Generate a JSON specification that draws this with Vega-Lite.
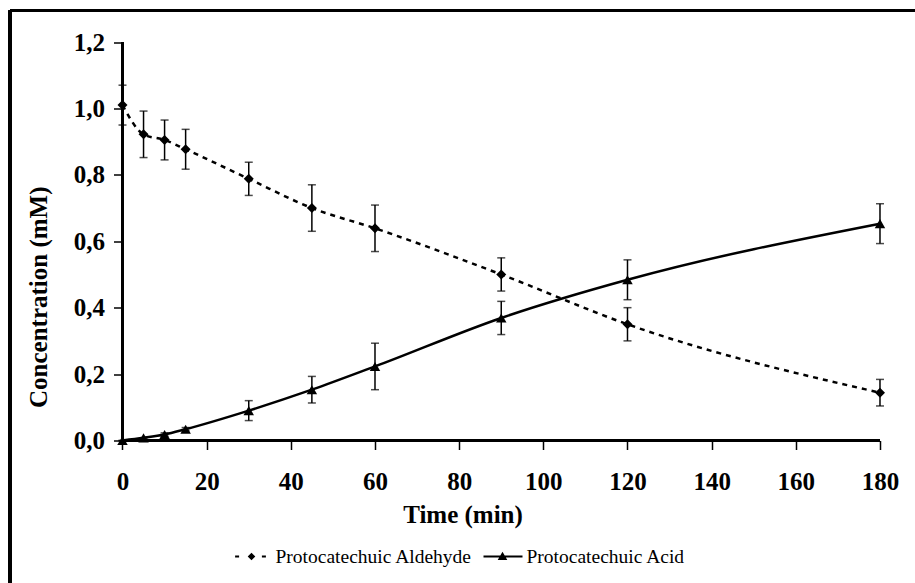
{
  "$schema": "https://vega.github.io/schema/vega-lite/v6.json",
  "autosize": {"type": "none"},
  "padding": {"left": 10, "top": 10.5, "right": 0, "bottom": 0},
  "width": 905,
  "height": 572.5,
  "background": "white",
  "config": {
    "view": {"stroke": null},
    "font": "Liberation Serif"
  },
  "data": {
    "values": [
      {"series": "Protocatechuic Aldehyde", "time": 0, "conc": 1.01, "err": 0.06},
      {"series": "Protocatechuic Aldehyde", "time": 5, "conc": 0.922, "err": 0.07},
      {"series": "Protocatechuic Aldehyde", "time": 10, "conc": 0.905, "err": 0.06},
      {"series": "Protocatechuic Aldehyde", "time": 15, "conc": 0.877, "err": 0.06},
      {"series": "Protocatechuic Aldehyde", "time": 30, "conc": 0.788, "err": 0.05},
      {"series": "Protocatechuic Aldehyde", "time": 45, "conc": 0.70, "err": 0.07},
      {"series": "Protocatechuic Aldehyde", "time": 60, "conc": 0.639, "err": 0.07},
      {"series": "Protocatechuic Aldehyde", "time": 90, "conc": 0.50, "err": 0.05},
      {"series": "Protocatechuic Aldehyde", "time": 120, "conc": 0.35, "err": 0.05},
      {"series": "Protocatechuic Aldehyde", "time": 180, "conc": 0.144, "err": 0.04},
      {"series": "Protocatechuic Acid", "time": 0, "conc": 0.0, "err": 0},
      {"series": "Protocatechuic Acid", "time": 5, "conc": 0.008, "err": 0},
      {"series": "Protocatechuic Acid", "time": 10, "conc": 0.018, "err": 0.005},
      {"series": "Protocatechuic Acid", "time": 15, "conc": 0.034, "err": 0.005},
      {"series": "Protocatechuic Acid", "time": 30, "conc": 0.09, "err": 0.03},
      {"series": "Protocatechuic Acid", "time": 45, "conc": 0.153, "err": 0.04},
      {"series": "Protocatechuic Acid", "time": 60, "conc": 0.223, "err": 0.07},
      {"series": "Protocatechuic Acid", "time": 90, "conc": 0.369, "err": 0.05},
      {"series": "Protocatechuic Acid", "time": 120, "conc": 0.484, "err": 0.06},
      {"series": "Protocatechuic Acid", "time": 180, "conc": 0.653, "err": 0.06}
    ]
  },
  "encoding": {
    "x": {
      "field": "time",
      "type": "quantitative",
      "scale": {"domain": [-26.733, 188.32], "nice": false, "zero": false},
      "axis": {
        "values": [0, 20, 40, 60, 80, 100, 120, 140, 160, 180],
        "domain": false,
        "grid": false,
        "offset": -142.5,
        "tickSize": 9,
        "tickWidth": 1.5,
        "tickColor": "black",
        "labelFont": "Liberation Serif",
        "labelFontSize": 25,
        "labelFontWeight": "bold",
        "labelColor": "black",
        "labelPadding": 20,
        "title": "Time (min)",
        "titleFont": "Liberation Serif",
        "titleFontSize": 25,
        "titleFontWeight": "bold",
        "titleColor": "black",
        "titlePadding": 8
      }
    },
    "y": {
      "field": "conc",
      "type": "quantitative",
      "scale": {"domain": [-0.42911, 1.29487], "nice": false, "zero": false},
      "axis": {
        "values": [0, 0.2, 0.4, 0.6, 0.8, 1.0, 1.2],
        "labelExpr": "replace(format(datum.value, '.1f'), '.', ',')",
        "domain": false,
        "grid": false,
        "offset": -112.5,
        "tickSize": 9,
        "tickWidth": 1.5,
        "tickColor": "black",
        "labelFont": "Liberation Serif",
        "labelFontSize": 25,
        "labelFontWeight": "bold",
        "labelColor": "black",
        "labelPadding": 9,
        "title": "Concentration (mM)",
        "titleFont": "Liberation Serif",
        "titleFontSize": 25,
        "titleFontWeight": "bold",
        "titleColor": "black",
        "titlePadding": 22
      }
    }
  },
  "layer": [
    {
      "mark": {"type": "rule", "color": "black", "strokeWidth": 2.5},
      "encoding": {
        "x": {"datum": -26.733, "type": "quantitative"},
        "y": {"datum": -0.42911, "type": "quantitative"},
        "y2": {"datum": 1.29487}
      }
    },
    {
      "mark": {"type": "rule", "color": "black", "strokeWidth": 2.5},
      "encoding": {
        "y": {"datum": 1.29487, "type": "quantitative"},
        "x": {"datum": -26.733, "type": "quantitative"},
        "x2": {"datum": 188.32}
      }
    },
    {
      "mark": {"type": "rule", "color": "black", "strokeWidth": 1.5},
      "encoding": {
        "x": {"datum": 0, "type": "quantitative"},
        "y": {"datum": 0, "type": "quantitative"},
        "y2": {"datum": 1.2}
      }
    },
    {
      "mark": {"type": "rule", "color": "black", "strokeWidth": 1.5},
      "encoding": {
        "y": {"datum": 0, "type": "quantitative"},
        "x": {"datum": 0, "type": "quantitative"},
        "x2": {"datum": 180}
      }
    },
    {
      "mark": {"type": "errorbar", "ticks": {"size": 8, "thickness": 1.5, "color": "black"}, "rule": {"strokeWidth": 1.5, "color": "black"}},
      "encoding": {
        "yError": {"field": "err"},
        "detail": {"field": "series"}
      }
    },
    {
      "transform": [{"filter": "datum.series === 'Protocatechuic Aldehyde'"}],
      "mark": {"type": "line", "color": "black", "strokeWidth": 2.5, "strokeDash": [5, 5], "interpolate": "monotone"},
      "encoding": {}
    },
    {
      "transform": [{"filter": "datum.series === 'Protocatechuic Acid'"}],
      "mark": {"type": "line", "color": "black", "strokeWidth": 2.5, "interpolate": "monotone"},
      "encoding": {}
    },
    {
      "transform": [{"filter": "datum.series === 'Protocatechuic Acid'"}],
      "mark": {"type": "point", "filled": true, "shape": "triangle-up", "size": 110, "opacity": 1, "color": "black"},
      "encoding": {
        "strokeDash": {
          "field": "series",
          "type": "nominal",
          "scale": {"domain": ["Protocatechuic Acid"], "range": [[1, 0]]},
          "legend": {
            "orient": "none",
            "legendX": 472.5,
            "legendY": 526,
            "direction": "horizontal",
            "title": null,
            "padding": 0,
            "labelFont": "Liberation Serif",
            "labelFontSize": 19.5,
            "labelColor": "black",
            "labelOffset": 4,
            "labelLimit": 0,
            "symbolSize": 1600,
            "symbolType": "M-0.95,-0.05H1V0.05H-0.95Z M0,-0.24L0.24,0.18H-0.24Z",
            "symbolFillColor": "black",
            "symbolStrokeColor": "black",
            "symbolStrokeWidth": 0,
            "symbolOpacity": 1
          }
        }
      }
    },
    {
      "transform": [{"filter": "datum.series === 'Protocatechuic Aldehyde'"}],
      "mark": {"type": "point", "filled": true, "shape": "diamond", "size": 100, "opacity": 1},
      "encoding": {
        "color": {
          "field": "series",
          "type": "nominal",
          "scale": {"domain": ["Protocatechuic Aldehyde"], "range": ["black"]},
          "legend": {
            "orient": "none",
            "legendX": 221.5,
            "legendY": 526,
            "direction": "horizontal",
            "title": null,
            "padding": 0,
            "labelFont": "Liberation Serif",
            "labelFontSize": 19.5,
            "labelColor": "black",
            "labelOffset": 4,
            "labelLimit": 0,
            "symbolSize": 1600,
            "symbolType": "M-0.82,-0.05H-0.62V0.05H-0.82Z M0,-0.19L0.19,0L0,0.19L-0.19,0Z M0.52,-0.05H0.72V0.05H0.52Z",
            "symbolStrokeWidth": 0,
            "symbolOpacity": 1
          }
        }
      }
    }
  ]
}
